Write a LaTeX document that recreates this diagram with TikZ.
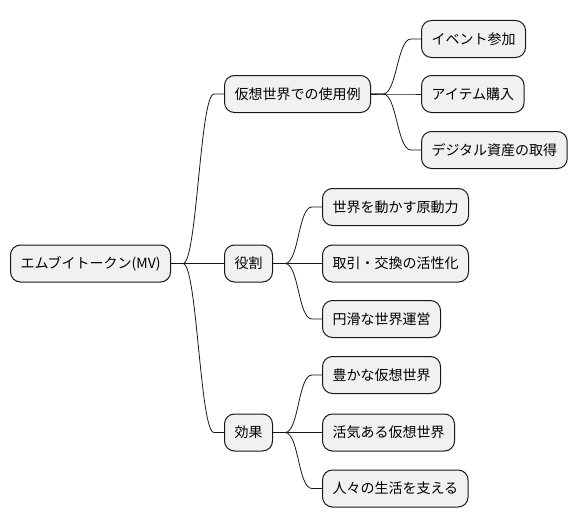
\documentclass[tikz,border=0pt]{standalone}
\usepackage{fontspec}
\newfontfamily\jpfont{Noto Sans CJK JP}
\definecolor{boxfill}{HTML}{F1F1F1}
\definecolor{boxline}{HTML}{181818}
\tikzset{
  topic/.style={draw=boxline, fill=boxfill, rounded corners=10pt, line width=1pt,
    minimum height=37pt, inner xsep=10pt, anchor=west, font=\jpfont\fontsize{14pt}{16pt}\selectfont},
  link/.style={draw=boxline, line width=0.8pt}
}
\newcommand{\branch}[2]{\draw[link] (#1.east) -- ++(12,0) .. controls +(14,0) and +(-14,0) .. ([xshift=-10pt]#2.west) -- (#2.west);}

\begin{document}
\begin{tikzpicture}[x=1pt,y=-1pt]
\useasboundingbox (0,0) rectangle (577,527);

\node[topic] (root) at (10,263.5) {エムブイトークン(MV)};

\node[topic] (usage) at (224,94) {仮想世界での使用例};
\node[topic] (role) at (224,263.5) {役割};
\node[topic] (effect) at (224,432.5) {効果};

\node[topic] (event) at (421,39) {イベント参加};
\node[topic] (item) at (421,94) {アイテム購入};
\node[topic] (asset) at (421,150) {デジタル資産の取得};

\node[topic] (drive) at (322,207) {世界を動かす原動力};
\node[topic] (trade) at (322,263.5) {取引・交換の活性化};
\node[topic] (smooth) at (322,319) {円滑な世界運営};

\node[topic] (rich) at (322,375) {豊かな仮想世界};
\node[topic] (lively) at (322,432.5) {活気ある仮想世界};
\node[topic] (life) at (322,488.5) {人々の生活を支える};

\foreach \p/\c in {root/usage, root/role, root/effect,
  usage/event, usage/item, usage/asset,
  role/drive, role/trade, role/smooth,
  effect/rich, effect/lively, effect/life}
  {\branch{\p}{\c}}

\end{tikzpicture}
\end{document}
